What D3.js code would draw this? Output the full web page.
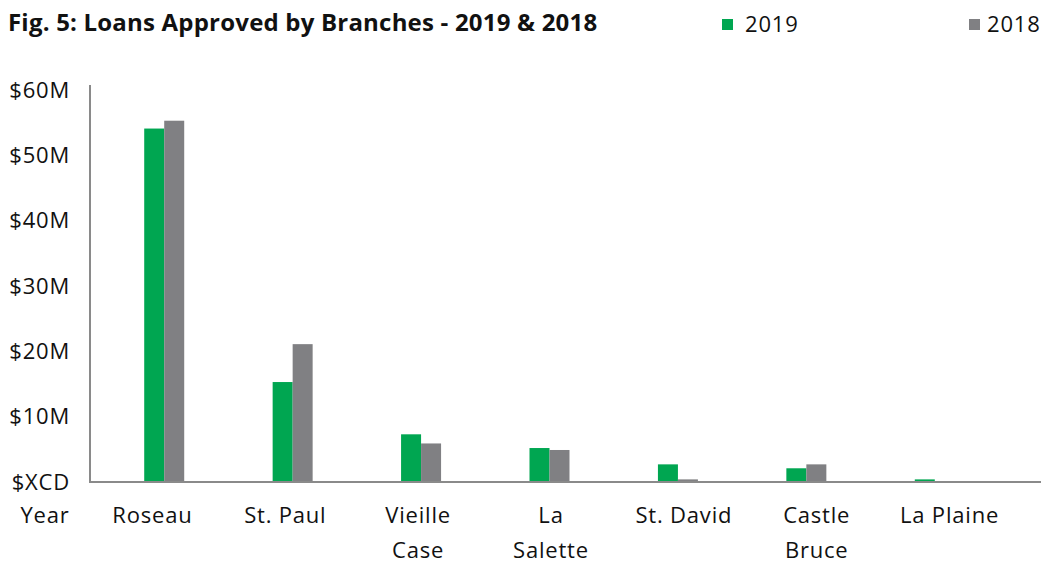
<!DOCTYPE html>
<html>
<head>
<meta charset="utf-8">
<script src="https://cdn.jsdelivr.net/npm/d3@7"></script>
<style>
  body { margin: 0; background: #fff; }
  text { font-family: "Open Sans", sans-serif; }
</style>
</head>
<body>
<div id="chart"></div>
<script>
// Chart size
const width = 1053;
const height = 563;

// Data (millions XCD)
const branches = ["Roseau", "St. Paul", "Vieille Case", "La Salette", "St. David", "Castle Bruce", "La Plaine"];
const labelLines = [["Roseau"], ["St. Paul"], ["Vieille", "Case"], ["La", "Salette"], ["St. David"], ["Castle", "Bruce"], ["La Plaine"]];
const values2019 = [54.1, 15.3, 7.3, 5.2, 2.7, 2.1, 0.4];
const values2018 = [55.3, 21.1, 5.9, 4.9, 0.4, 2.7, 0];
const yTicks = [0, 10, 20, 30, 40, 50, 60];
const seriesNames = ["2019", "2018"];
const colors = ["#00a651", "#808083"];

const svg = d3.select("#chart")
  .append("svg")
  .attr("width", width)
  .attr("height", height);

// Scales
const y = d3.scaleLinear().domain([0, 60]).range([482, 90]);

const x = d3.scaleBand()
  .domain(branches)
  .range([100, 999]);

const xInner = d3.scaleBand()
  .domain(seriesNames)
  .range([x.bandwidth() / 2 - 20, x.bandwidth() / 2 + 20]);

// separate row for category labels (sits like a table under the chart)
const xLabel = d3.scaleBand()
  .domain(branches)
  .range([86, 1016]);

// Title
svg.append("text")
  .attr("x", 8)
  .attr("y", 31)
  .attr("font-size", 24)
  .attr("font-weight", "bold")
  .attr("letter-spacing", 0.2)
  .attr("fill", "#111")
  .text("Fig. 5: Loans Approved by Branches - 2019 & 2018");

// Legend
const legendBox = [722, 969];
const legendText = [745, 987];
const legend = svg.selectAll(".legend")
  .data(seriesNames)
  .enter()
  .append("g")
  .attr("class", "legend");

legend.append("rect")
  .attr("x", (d, i) => legendBox[i])
  .attr("y", 19)
  .attr("width", 11)
  .attr("height", 11)
  .attr("fill", (d, i) => colors[i]);

legend.append("text")
  .attr("x", (d, i) => legendText[i])
  .attr("y", 32)
  .attr("font-size", 22)
  .attr("letter-spacing", 0.8)
  .attr("fill", "#111")
  .text(d => d);

// Y axis labels
const yAxis = d3.axisLeft(y)
  .tickValues(yTicks)
  .tickSize(0)
  .tickPadding(0)
  .tickFormat(d => d === 0 ? "$XCD" : `$${d}M`);

const gy = svg.append("g")
  .attr("transform", "translate(70,0)")
  .call(yAxis);
gy.select(".domain").remove();
gy.selectAll("text")
  .attr("font-size", 22)
  .attr("letter-spacing", 0.8)
  .attr("font-family", "'Open Sans', sans-serif")
  .attr("fill", "#111");

// Bars
const rows = branches.map((b, i) => ({ branch: b, vals: [values2019[i], values2018[i]] }));

const groups = svg.selectAll(".grp")
  .data(rows)
  .enter()
  .append("g")
  .attr("class", "grp")
  .attr("transform", d => `translate(${x(d.branch)},0)`);

groups.selectAll("rect")
  .data(d => d.vals.map((v, i) => ({ key: seriesNames[i], v: v, i: i })))
  .enter()
  .append("rect")
  .attr("x", d => xInner(d.key))
  .attr("y", d => y(d.v))
  .attr("width", xInner.bandwidth())
  .attr("height", d => y(0) - y(d.v))
  .attr("fill", d => colors[d.i]);

// Axis lines
svg.append("line")
  .attr("x1", 90).attr("x2", 90)
  .attr("y1", 85).attr("y2", 483)
  .attr("stroke", "#8a8a8a")
  .attr("stroke-width", 2);

svg.append("line")
  .attr("x1", 89).attr("x2", 1041)
  .attr("y1", 482).attr("y2", 482)
  .attr("stroke", "#8a8a8a")
  .attr("stroke-width", 2);

// Category label row
svg.append("text")
  .attr("x", 45)
  .attr("y", 523)
  .attr("text-anchor", "middle")
  .attr("font-size", 22)
  .attr("letter-spacing", 0.8)
  .attr("fill", "#111")
  .text("Year");

const labels = svg.selectAll(".xlab")
  .data(branches)
  .enter()
  .append("text")
  .attr("class", "xlab")
  .attr("text-anchor", "middle")
  .attr("font-size", 22)
  .attr("letter-spacing", 0.8)
  .attr("fill", "#111");

labels.selectAll("tspan")
  .data((d, i) => labelLines[i].map(t => ({ t: t, b: d })))
  .enter()
  .append("tspan")
  .attr("x", d => xLabel(d.b) + xLabel.bandwidth() / 2)
  .attr("y", (d, j) => 523 + j * 35)
  .text(d => d.t);
</script>
</body>
</html>
